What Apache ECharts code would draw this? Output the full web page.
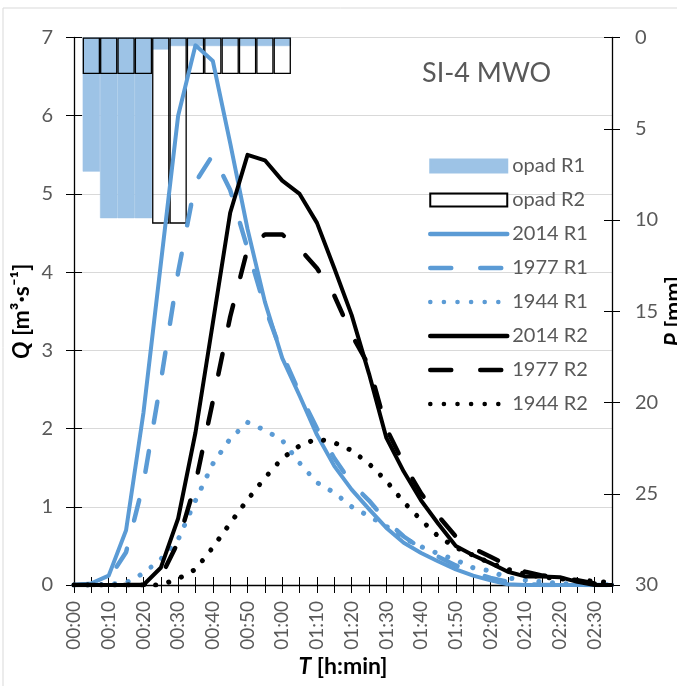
<!DOCTYPE html>
<html>
<head>
<meta charset="utf-8">
<title>SI-4 MWO</title>
<script src="https://cdn.jsdelivr.net/npm/echarts@6/dist/echarts.min.js"></script>
<style>
  html, body { margin: 0; padding: 0; background: #ffffff; }
  #chart { width: 677px; height: 686px; }
</style>
</head>
<body>
<div id="chart"></div>
<script>
/* =========================================
   1. DATA
   ========================================= */
// time in minutes from start, every 5 min (00:00 ... 02:35)
const minutes = [0, 5, 10, 15, 20, 25, 30, 35, 40, 45, 50, 55, 60, 65, 70, 75,
  80, 85, 90, 95, 100, 105, 110, 115, 120, 125, 130, 135, 140, 145, 150, 155];

// discharge Q [m3/s]
const q2014R1 = [0, 0.02, 0.12, 0.7, 2.2, 4.1, 6.0, 6.9, 6.7, 5.65, 4.55, 3.62, 2.9, 2.42, 1.92, 1.52,
  1.22, 0.97, 0.73, 0.54, 0.41, 0.30, 0.2, 0.12, 0.06, 0.01, 0, 0, 0, 0, 0, 0];
const q1977R1 = [0, 0.01, 0.08, 0.42, 1.3, 2.6, 4.0, 5.15, 5.5, 5.05, 4.3, 3.55, 2.95, 2.45, 2.0, 1.62,
  1.3, 1.08, 0.82, 0.62, 0.47, 0.36, 0.25, 0.16, 0.09, 0.04, 0.01, 0, 0, 0, 0, 0];
const q1944R1 = [0, 0, 0.01, 0.03, 0.15, 0.33, 0.58, 1.08, 1.55, 1.87, 2.08, 1.98, 1.85, 1.56, 1.31, 1.18,
  1.0, 0.88, 0.75, 0.6, 0.49, 0.4, 0.32, 0.22, 0.18, 0.09, 0.06, 0.04, 0.02, 0.01, 0.01, 0];
const q2014R2 = [0, 0, 0, 0, 0, 0.22, 0.85, 1.95, 3.35, 4.76, 5.5, 5.43, 5.17, 5.0, 4.63, 4.05,
  3.45, 2.7, 1.88, 1.45, 1.08, 0.78, 0.5, 0.38, 0.28, 0.17, 0.11, 0.11, 0.1, 0.04, 0, 0];
const q1977R2 = [0, 0, 0, 0, 0, 0.1, 0.55, 1.3, 2.35, 3.43, 4.3, 4.48, 4.48, 4.3, 4.05, 3.7,
  3.2, 2.8, 2.0, 1.55, 1.17, 0.88, 0.62, 0.47, 0.36, 0.25, 0.17, 0.12, 0.1, 0.06, 0.02, 0];
const q1944R2 = [0, 0, 0, 0, 0, 0, 0.08, 0.2, 0.48, 0.79, 1.09, 1.37, 1.62, 1.78, 1.87, 1.82,
  1.72, 1.55, 1.33, 1.06, 0.83, 0.62, 0.48, 0.38, 0.28, 0.2, 0.14, 0.1, 0.08, 0.06, 0.05, 0.03];

// rainfall P [mm] per 5 min interval
const rainMinutes = [5, 10, 15, 20, 25, 30, 35, 40, 45, 50, 55, 60];
const opadR1 = [7.35, 9.9, 9.9, 9.9, 0.66, 0.47, 0.47, 0.47, 0.47, 0.47, 0.47, 0.47];
const opadR2 = [2.0, 2.0, 2.0, 2.0, 10.2, 10.2, 2.0, 2.0, 2.0, 2.0, 2.0, 2.0];

/* =========================================
   2. HELPERS
   ========================================= */
const FONT = "Lato, 'Liberation Sans', sans-serif";
const GREY = "#595959";
const BLUE = "#5b9bd5";
const BAR_BLUE = "#9dc3e6";

function pairs(xs, ys) {
  return ys.map((v, i) => [xs[i], v]);
}

function hhmm(m) {
  const h = Math.floor(m / 60);
  const mm = m % 60;
  return String(h).padStart(2, "0") + ":" + String(mm).padStart(2, "0");
}

function lineSeries(name, values, color, kind) {
  const style = { color: color, cap: "round", join: "round" };
  if (kind === "dash") {
    style.width = 4.5;
    style.type = [21, 29];
  } else if (kind === "dot") {
    style.width = 5;
    style.type = [0.1, 13.5];
  } else {
    style.width = 4;
  }
  return {
    name: name,
    type: "line",
    xAxisIndex: 0,
    yAxisIndex: 0,
    data: pairs(minutes, values),
    symbol: "none",
    lineStyle: style,
    itemStyle: { color: color },
    emphasis: { disabled: true },
  };
}

// legend entry for a line series: line only, no marker in the middle
function lineLegend(name) {
  return { name: name, itemStyle: { opacity: 0 } };
}

/* =========================================
   3. CHART
   ========================================= */
function initChart() {
  const chart = echarts.init(document.getElementById("chart"), null, { renderer: "canvas" });

  const tickOut = { show: true, inside: false, length: 8, lineStyle: { color: "#000", width: 1 } };
  const tickIn = { show: true, inside: true, length: 8, lineStyle: { color: "#000", width: 1 } };
  const blackLine = { show: true, onZero: false, lineStyle: { color: "#000", width: 1.3 } };
  const boldName = {
    color: "#000", fontSize: 23, fontWeight: "bold", fontFamily: FONT,
    rich: { i: { fontStyle: "italic", fontWeight: "bold", fontSize: 23, fontFamily: FONT } },
  };

  const option = {
    animation: false,
    backgroundColor: "#ffffff",
    textStyle: { fontFamily: FONT },
    graphic: [
      {
        type: "rect",
        z: -10,
        shape: { x: 3, y: 8, width: 720, height: 720 },
        style: { fill: "none", stroke: "#d9d9d9", lineWidth: 1 },
      },
    ],
    title: {
      text: "SI-4 MWO",
      left: 417,
      top: 55,
      textStyle: { color: GREY, fontSize: 27, fontWeight: "normal", fontFamily: FONT },
    },
    legend: {
      orient: "vertical",
      left: 428,
      top: 156,
      padding: 0,
      itemWidth: 77,
      itemHeight: 13,
      itemGap: 14,
      selectedMode: false,
      lineStyle: { width: 4.5 },
      textStyle: { color: GREY, fontSize: 20, lineHeight: 20, fontFamily: FONT },
      data: [
        { name: "opad R1", icon: "rect" },
        { name: "opad R2", icon: "rect" },
        lineLegend("2014 R1"), lineLegend("1977 R1"), lineLegend("1944 R1"),
        lineLegend("2014 R2"), lineLegend("1977 R2"), lineLegend("1944 R2"),
      ],
    },
    grid: { left: 74, right: 65, top: 37.5, bottom: 101, outerBoundsMode: "none" },
    xAxis: [
      {
        type: "value",
        min: 0,
        max: 155,
        interval: 5,
        position: "bottom",
        name: "{i|T} [h:min]",
        nameLocation: "middle",
        nameGap: 70,
        nameMoveOverlap: false,
        nameTextStyle: boldName,
        axisLine: blackLine,
        axisTick: tickOut,
        splitLine: { show: false },
        axisLabel: {
          rotate: 90,
          margin: 16,
          color: GREY,
          fontSize: 19,
          fontFamily: FONT,
          formatter: (v) => (v % 10 === 0 ? hhmm(v) : ""),
        },
      },
      {
        // inner half of the crossing ticks
        type: "value",
        min: 0,
        max: 155,
        interval: 5,
        position: "bottom",
        axisLine: { show: false, onZero: false },
        axisTick: tickIn,
        axisLabel: { show: false },
        splitLine: { show: false },
      },
    ],
    yAxis: [
      {
        type: "value",
        min: 0,
        max: 7,
        interval: 1,
        position: "left",
        name: "{i|Q} [m³·s⁻¹]",
        nameLocation: "middle",
        nameRotate: 90,
        nameGap: 41,
        nameMoveOverlap: false,
        nameTextStyle: boldName,
        axisLine: blackLine,
        axisTick: tickOut,
        axisLabel: { margin: 21, color: GREY, fontSize: 20, fontFamily: FONT },
        splitLine: { show: true, lineStyle: { color: "#d9d9d9", width: 1 } },
      },
      {
        type: "value",
        min: 0,
        max: 30,
        interval: 5,
        inverse: true,
        position: "right",
        name: "{i|P} [mm]",
        nameLocation: "middle",
        nameRotate: 90,
        nameGap: 50,
        nameMoveOverlap: false,
        nameTextStyle: boldName,
        axisLine: blackLine,
        axisTick: tickOut,
        axisLabel: { margin: 23, color: GREY, fontSize: 20, fontFamily: FONT },
        splitLine: { show: false },
      },
      {
        type: "value",
        min: 0,
        max: 7,
        interval: 1,
        position: "left",
        axisLine: { show: false, onZero: false },
        axisTick: tickIn,
        axisLabel: { show: false },
        splitLine: { show: false },
      },
      {
        type: "value",
        min: 0,
        max: 30,
        interval: 5,
        inverse: true,
        position: "right",
        axisLine: { show: false, onZero: false },
        axisTick: tickIn,
        axisLabel: { show: false },
        splitLine: { show: false },
      },
    ],
    series: [
      {
        name: "opad R1",
        type: "bar",
        xAxisIndex: 0,
        yAxisIndex: 1,
        data: pairs(rainMinutes, opadR1),
        barWidth: "100%",
        barGap: "-100%",
        // thin border in the fill colour hides seams between adjacent bars
        itemStyle: { color: BAR_BLUE, borderColor: BAR_BLUE, borderWidth: 0.6 },
        emphasis: { disabled: true },
      },
      {
        name: "opad R2",
        type: "bar",
        xAxisIndex: 0,
        yAxisIndex: 1,
        data: pairs(rainMinutes, opadR2),
        barWidth: "100%",
        barGap: "-100%",
        itemStyle: { color: "rgba(255,255,255,0)", borderColor: "#000", borderWidth: 1.3 },
        emphasis: { disabled: true },
      },
      lineSeries("2014 R1", q2014R1, BLUE, "solid"),
      lineSeries("1977 R1", q1977R1, BLUE, "dash"),
      lineSeries("1944 R1", q1944R1, BLUE, "dot"),
      lineSeries("2014 R2", q2014R2, "#000", "solid"),
      lineSeries("1977 R2", q1977R2, "#000", "dash"),
      lineSeries("1944 R2", q1944R2, "#000", "dot"),
    ],
  };

  chart.setOption(option);
  window.addEventListener("resize", () => chart.resize());
}

document.addEventListener("DOMContentLoaded", initChart);
</script>
</body>
</html>
